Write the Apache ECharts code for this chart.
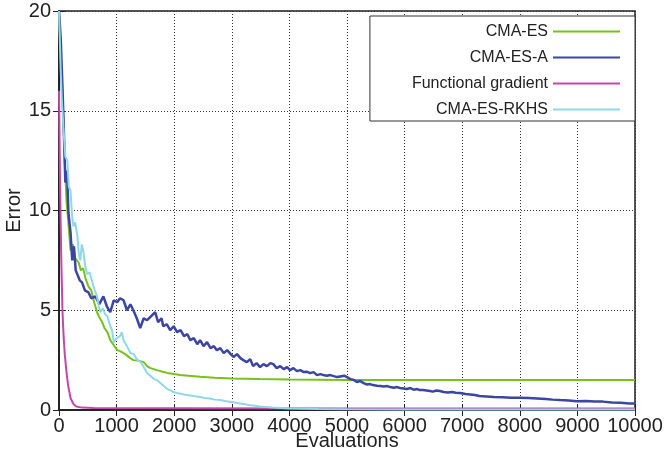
<!DOCTYPE html>
<html>
<head>
<meta charset="utf-8">
<script src="https://cdn.jsdelivr.net/npm/echarts@6/dist/echarts.min.js"></script>
<style>
html,body{margin:0;padding:0;background:#fff;}
#chart{width:670px;height:459px;}
</style>
</head>
<body>
<div id="chart"></div>
<script>
// Tick values
var xTicks = [0, 1000, 2000, 3000, 4000, 5000, 6000, 7000, 8000, 9000, 10000];
var yTicks = [0, 5, 10, 15, 20];
var seriesNames = ['CMA-ES', 'CMA-ES-A', 'Functional gradient', 'CMA-ES-RKHS'];

// CMA-ES  [evaluations, error]
var cmaes = [
  [0,20],[40,17],[70,15],[100,12.5],[130,10.5],[160,9.5],[200,8.0],[240,8.3],[280,7.6],[340,7.4],
  [380,7.0],[420,7.1],[460,6.6],[510,6.2],[560,6.0],[610,5.4],[665,4.86],[710,4.6],[750,4.4],[790,4.1],
  [840,3.9],[890,3.5],[950,3.25],[1012,3.0],[1060,2.95],[1150,2.8],[1237,2.6],[1290,2.5],[1380,2.47],
  [1470,2.4],[1530,2.2],[1590,2.1],[1700,2.0],[1800,1.92],[1880,1.86],[2000,1.8],[2100,1.76],[2250,1.72],
  [2450,1.67],[2700,1.62],[3000,1.58],[3490,1.55],[4000,1.53],[4500,1.52],[5000,1.51],[6000,1.5],
  [7000,1.5],[8000,1.5],[9000,1.5],[10000,1.5]
];

// CMA-ES-A
var cmaesA = [
  [0,20],[30,18.6],[60,16.2],[80,14.4],[110,11.4],[140,12.0],[163,9.9],[200,8.9],[230,7.5],[260,8.2],
  [290,7.0],[320,6.9],[360,6.5],[400,6.4],[450,6.0],[510,5.9],[560,5.6],[630,5.7],[700,5.3],[770,5.7],
  [830,5.2],[890,4.9],[950,5.5],[1010,5.4],[1060,5.6],[1120,5.5],[1180,5.0],[1240,5.3],[1290,5.0],
  [1350,4.6],[1410,4.1],[1470,4.6],[1530,4.5],[1600,4.7],[1670,4.9],[1720,4.4],[1780,4.6],[1810,4.2],
  [1870,4.3],[1930,4.0],[1990,4.2],[2050,3.9],[2110,4.0],[2170,3.7],[2230,3.8],[2280,3.5],[2340,3.6],
  [2400,3.3],[2450,3.5],[2510,3.2],[2570,3.4],[2630,3.1],[2690,3.2],[2740,3.0],[2800,3.1],[2860,2.85],
  [2920,3.0],[2980,2.8],[3030,2.66],[3090,2.8],[3150,2.6],[3200,2.5],[3260,2.4],[3320,2.55],[3370,2.2],
  [3430,2.35],[3490,2.15],[3550,2.3],[3610,2.2],[3670,2.35],[3720,2.3],[3780,2.1],[3840,2.2],[3900,2.05],
  [3960,2.15],[4010,2.0],[4070,2.1],[4130,1.95],[4190,2.0],[4250,1.9],[4300,1.92],[4360,1.85],[4420,1.9],
  [4480,1.75],[4540,1.8],[4590,1.75],[4650,1.72],[4710,1.75],[4770,1.7],[4830,1.65],[4880,1.68],
  [4950,1.72],[5000,1.65],[5060,1.55],[5120,1.5],[5170,1.4],[5230,1.45],[5290,1.35],[5340,1.28],
  [5400,1.3],[5450,1.25],[5520,1.22],[5580,1.2],[5640,1.18],[5700,1.2],[5750,1.15],[5810,1.12],
  [5870,1.15],[5920,1.1],[5980,1.08],[6040,1.05],[6100,1.1],[6160,1.02],[6220,1.05],[6260,1.0],
  [6320,1.0],[6380,0.98],[6440,0.95],[6490,0.92],[6550,0.98],[6610,0.95],[6680,0.9],[6750,0.88],
  [6820,0.9],[6890,0.86],[6960,0.85],[6990,0.82],[7060,0.8],[7140,0.78],[7220,0.75],[7300,0.7],
  [7420,0.68],[7550,0.65],[7700,0.64],[7850,0.62],[8000,0.62],[8150,0.6],[8300,0.58],[8450,0.55],
  [8570,0.52],[8700,0.5],[8850,0.48],[8990,0.44],[9150,0.45],[9300,0.42],[9440,0.42],[9600,0.38],
  [9750,0.36],[9900,0.33],[10000,0.32]
];

// Functional gradient
var funcGrad = [
  [0,16],[20,11],[40,7.5],[60,5],[80,3.7],[100,2.8],[130,1.9],[160,1.2],[200,0.6],[250,0.3],
  [300,0.18],[400,0.12],[600,0.1],[2000,0.09],[5000,0.08],[10000,0.08]
];

// CMA-ES-RKHS
var cmaesRkhs = [
  [0,20],[30,17],[50,15.5],[80,14],[110,12.7],[145,12.5],[170,11.2],[200,11.0],[225,9.8],[250,9.2],
  [280,9.4],[320,8.7],[345,7.8],[370,7.5],[395,8.3],[420,8.0],[455,7.2],[490,6.8],[530,6.9],[580,6.4],
  [620,6.0],[660,5.7],[690,5.2],[720,4.9],[760,5.1],[800,4.8],[840,4.7],[890,4.2],[920,4.0],[950,3.4],
  [1000,3.6],[1060,3.7],[1090,3.9],[1120,3.5],[1180,3.2],[1240,2.86],[1300,2.8],[1360,2.5],[1420,2.4],
  [1480,2.1],[1530,1.85],[1590,1.7],[1650,1.55],[1700,1.5],[1760,1.35],[1820,1.2],[1880,1.05],
  [1940,0.98],[1990,0.9],[2050,0.85],[2110,0.82],[2170,0.78],[2220,0.75],[2300,0.72],[2380,0.68],
  [2450,0.65],[2530,0.6],[2620,0.58],[2700,0.52],[2800,0.5],[2900,0.44],[3000,0.4],[3145,0.33],
  [3300,0.25],[3490,0.17],[3700,0.12],[4010,0.07],[4500,0.05],[5000,0.04],[6000,0.03],[8000,0.02],
  [10000,0.02]
];

var colors = ['#77c11b', '#3b45a3', '#c448a9', '#8fd8e8'];
var widths = [2, 2.5, 2, 2];
var dataSets = [cmaes, cmaesA, funcGrad, cmaesRkhs];

var font = 'Liberation Sans, Arial, sans-serif';
var chart = echarts.init(document.getElementById('chart'), null, {renderer: 'canvas'});

var axisCommon = {
  axisLine: {show: true, lineStyle: {color: '#222', width: 1.5}},
  axisTick: {show: true, inside: true, length: 6, lineStyle: {color: '#222', width: 1}}
};
function plain(v) { return String(v); }

var option = {
  animation: false,
  backgroundColor: '#fff',
  color: colors,
  grid: {left: 59, right: 35, top: 11, bottom: 49, show: true, borderColor: '#222', borderWidth: 1.5,
         backgroundColor: 'transparent', containLabel: false, outerBoundsMode: 'none'},
  legend: {
    data: seriesNames,
    orient: 'vertical',
    right: 35,
    top: 16,
    align: 'right',
    icon: 'rect',
    itemWidth: 67,
    itemHeight: 2,
    itemGap: 9,
    padding: [7, 15, 3, 42],
    borderColor: '#333',
    borderWidth: 1,
    backgroundColor: '#fff',
    textStyle: {fontSize: 16, lineHeight: 17, color: '#222', fontFamily: font},
    z: 10
  },
  xAxis: [
    Object.assign({
      type: 'value', min: xTicks[0], max: xTicks[xTicks.length - 1], interval: 1000,
      name: 'Evaluations', nameLocation: 'middle', nameGap: 21, nameMoveOverlap: false,
      nameTextStyle: {fontSize: 20, color: '#222', fontFamily: font},
      axisLabel: {fontSize: 20, color: '#222', fontFamily: font, margin: 6, formatter: plain,
                  showMaxLabel: true, showMinLabel: true, hideOverlap: false},
      splitLine: {show: true, lineStyle: {color: '#333', type: [1, 2], width: 1}}
    }, axisCommon),
    Object.assign({
      type: 'value', position: 'top', min: xTicks[0], max: xTicks[xTicks.length - 1], interval: 1000,
      axisLabel: {show: false}, splitLine: {show: false}
    }, axisCommon)
  ],
  yAxis: [
    Object.assign({
      type: 'value', min: yTicks[0], max: yTicks[yTicks.length - 1], interval: 5,
      name: 'Error', nameLocation: 'middle', nameGap: 35, nameMoveOverlap: false,
      nameTextStyle: {fontSize: 20, color: '#222', fontFamily: font},
      axisLabel: {fontSize: 20, color: '#222', fontFamily: font, margin: 8, formatter: plain},
      splitLine: {show: true, lineStyle: {color: '#333', type: [1, 2], width: 1}}
    }, axisCommon),
    Object.assign({
      type: 'value', position: 'right', min: yTicks[0], max: yTicks[yTicks.length - 1], interval: 5,
      axisLabel: {show: false}, splitLine: {show: false}
    }, axisCommon)
  ],
  series: seriesNames.map(function (n, i) {
    return {
      name: n,
      type: 'line',
      data: dataSets[i],
      symbol: 'none',
      lineStyle: {width: widths[i], color: colors[i]},
      itemStyle: {color: colors[i]},
      z: 3 + i
    };
  })
};
chart.setOption(option);
</script>
</body>
</html>
